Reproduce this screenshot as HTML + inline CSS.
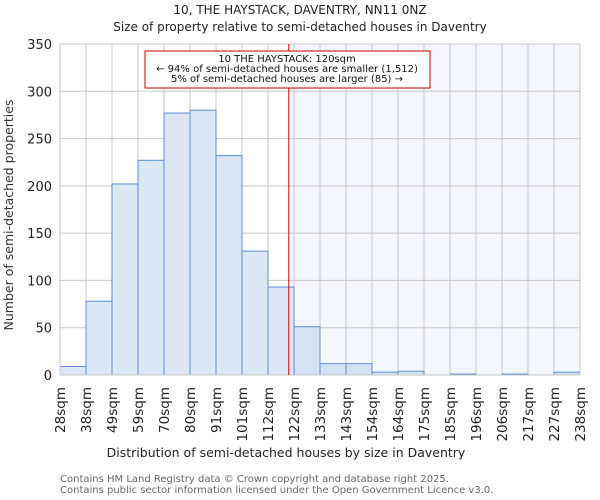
<!DOCTYPE html>
<html><head><meta charset="utf-8"><style>
body{margin:0;background:#fff}
svg{display:block;font-family:"DejaVu Sans","Liberation Sans",sans-serif}
</style></head><body>
<svg id="c" width="600" height="500" viewBox="0 0 600 500">
<text x="300" y="14" text-anchor="middle" font-size="12" fill="#222">10, THE HAYSTACK, DAVENTRY, NN11 0NZ</text>
<text x="300" y="31" text-anchor="middle" font-size="12" fill="#222">Size of property relative to semi-detached houses in Daventry</text>
<text transform="translate(13,215) rotate(-90)" text-anchor="middle" font-size="12.5" fill="#333">Number of semi-detached properties</text>
<text x="286" y="457" text-anchor="middle" font-size="12.5" fill="#222">Distribution of semi-detached houses by size in Daventry</text>
<text x="60" y="482" font-size="10" fill="#666">Contains HM Land Registry data © Crown copyright and database right 2025.</text>
<text x="60" y="493" font-size="10" fill="#666">Contains public sector information licensed under the Open Government Licence v3.0.</text>
<g id="g"></g>
</svg>
<script>
const binLabels=["28sqm","38sqm","49sqm","59sqm","70sqm","80sqm","91sqm","101sqm","112sqm","122sqm","133sqm","143sqm","154sqm","164sqm","175sqm","185sqm","196sqm","206sqm","217sqm","227sqm","238sqm"];
const counts=[9,78,202,227,277,280,232,131,93,51,12,12,3,4,0,1,0,1,0,3];
const yTicks=[0,50,100,150,200,250,300,350];
const markerIndex=8.8;
const L=60,R=580,T=44,B=375,yMax=350;
const xs=i=>L+(R-L)*i/counts.length;
const ys=v=>B-(B-T)*v/yMax;
const NS="http://www.w3.org/2000/svg",g=document.getElementById('g');
function mk(t,a){const e=document.createElementNS(NS,t);for(const k in a)e.setAttribute(k,a[k]);g.appendChild(e);return e;}
const mx=xs(markerIndex);
let e=mk('rect',{x:mx,y:T,width:R-mx,height:B-T,fill:'#f3f6fd'});


yTicks.forEach(v=>{
 let l=mk('line',{x1:L,x2:R,y1:ys(v),y2:ys(v),stroke:'#c8c8c8','stroke-width':1});
 
 
 let t=mk('text',{x:L-8,y:ys(v)+5,'text-anchor':'end','font-size':13,fill:'#222'});
 t.textContent=v;
 
 
});
binLabels.forEach((s,i)=>{
 let l=mk('line',{x1:xs(i),x2:xs(i),y1:T,y2:B,stroke:'#c8c8c8','stroke-width':1});
 
 
 let t=mk('text',{transform:`translate(${xs(i)+5},387) rotate(-90)`,'text-anchor':'end','font-size':13.5,fill:'#222'});
 t.textContent=s;
 
 
});
counts.forEach((v,i)=>{
 let r=mk('rect',{x:xs(i),y:ys(v),width:xs(i+1)-xs(i),height:B-ys(v),fill:i<markerIndex?'#dce6f4':'#d6e1f2',stroke:'#5b8fd6','stroke-width':1});
 
 
});
let fr=mk('rect',{x:L,y:T,width:R-L,height:B-T,fill:'none',stroke:'#c8c8c8'});


let ml=mk('line',{x1:mx,x2:mx,y1:T,y2:B,stroke:'#cc0000','stroke-width':1});


let box=mk('rect',{x:145,y:51,width:285,height:37,fill:'#fff',stroke:'#cc0000'});


["10 THE HAYSTACK: 120sqm","← 94% of semi-detached houses are smaller (1,512)","5% of semi-detached houses are larger (85) →"].forEach((s,i)=>{
 let t=mk('text',{x:287,y:62+i*10,'text-anchor':'middle','font-size':10,fill:'#111'});
 t.textContent=s;
 
 
});
</script>
</body></html>
